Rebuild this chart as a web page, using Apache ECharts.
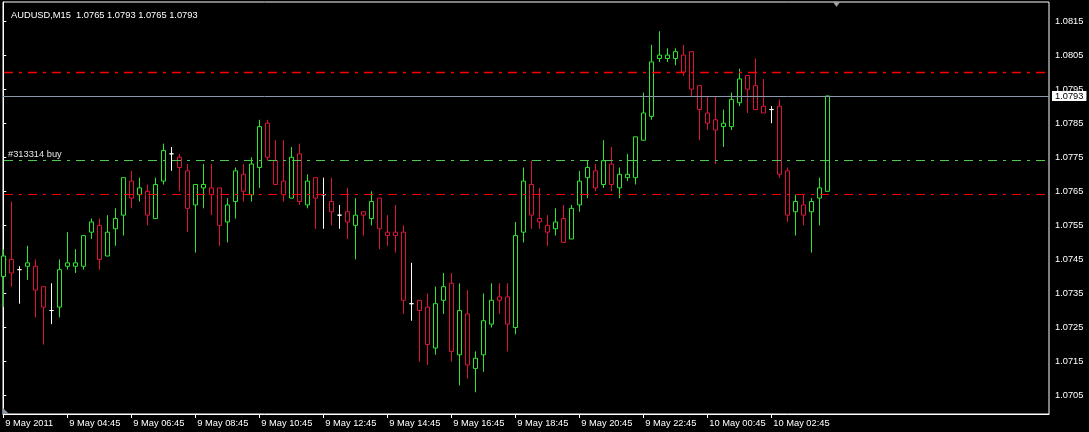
<!DOCTYPE html>
<html><head><meta charset="utf-8">
<script src="https://cdn.jsdelivr.net/npm/echarts@6/dist/echarts.min.js"></script>
<style>html,body{margin:0;padding:0;background:#000}#c{width:1089px;height:432px}</style>
</head><body><div id="c"></div>
<script>
const chartTitle = 'AUDUSD,M15  1.0765 1.0793 1.0765 1.0793';
const xLabels = ['9 May 2011','9 May 04:45','9 May 06:45','9 May 08:45','9 May 10:45','9 May 12:45','9 May 14:45','9 May 16:45','9 May 18:45','9 May 20:45','9 May 22:45','10 May 00:45','10 May 02:45'];
const xLabelIdx = [0,8,16,24,32,40,48,56,64,72,80,88,96];
const yTicks = [1.0705,1.0715,1.0725,1.0735,1.0745,1.0755,1.0765,1.0775,1.0785,1.0795,1.0805,1.0815];

const opens = [1.0740,1.0745,1.0742,1.0743,1.0743,1.0737,1.0730,1.0731,1.0743,1.0743,
1.0743,1.0753,1.0755,1.0746,1.0754,1.0758,1.0768,1.0764,1.0765,1.0757,
1.0768,1.0776,1.0775,1.0771,1.0761,1.0766,1.0766,1.0766,1.0756,1.0762,
1.0770,1.0764,1.0772,1.0785,1.0774,1.0768,1.0763,1.0776,1.0761,1.0769,
1.0764,1.0762,1.0758,1.0759,1.0755,1.0759,1.0757,1.0763,1.0753,1.0753,
1.0753,1.0732,1.0733,1.0731,1.0719,1.0733,1.0738,1.0717,1.0729,1.0713,
1.0717,1.0726,1.0734,1.0734,1.0725,1.0753,1.0767,1.0757,1.0755,1.0754,
1.0757,1.0751,1.0761,1.0769,1.0771,1.0767,1.0773,1.0766,1.0769,1.0769,
1.0780,1.0787,1.0804,1.0804,1.0804,1.0805,1.0806,1.0796,1.0788,1.0786,
1.0784,1.0784,1.0791,1.0799,1.0796,1.0790,1.0789,1.0790,1.0771,1.0759,
1.0761,1.0759,1.0763,1.0765];
const highs = [1.0748,1.0762,1.0743,1.0749,1.0745,1.0737,1.0738,1.0745,1.0753,1.0748,
1.0752,1.0757,1.0757,1.0758,1.0760,1.0769,1.0771,1.0769,1.0767,1.0769,
1.0779,1.0778,1.0776,1.0773,1.0767,1.0773,1.0773,1.0766,1.0763,1.0772,
1.0773,1.0775,1.0786,1.0786,1.0780,1.0780,1.0778,1.0779,1.0770,1.0769,
1.0769,1.0769,1.0761,1.0766,1.0763,1.0759,1.0765,1.0763,1.0758,1.0761,
1.0755,1.0744,1.0733,1.0735,1.0737,1.0741,1.0741,1.0738,1.0736,1.0718,
1.0735,1.0738,1.0738,1.0738,1.0756,1.0772,1.0774,1.0766,1.0758,1.0760,
1.0761,1.0761,1.0771,1.0774,1.0773,1.0780,1.0778,1.0772,1.0776,1.0781,
1.0794,1.0808,1.0812,1.0807,1.0807,1.0808,1.0806,1.0796,1.0793,1.0793,
1.0789,1.0794,1.0801,1.0799,1.0804,1.0798,1.0790,1.0792,1.0772,1.0764,
1.0764,1.0763,1.0769,1.0793];
const lows = [1.0731,1.0737,1.0732,1.0739,1.0728,1.0720,1.0726,1.0728,1.0742,1.0741,
1.0742,1.0751,1.0742,1.0746,1.0749,1.0752,1.0760,1.0762,1.0755,1.0757,
1.0767,1.0771,1.0765,1.0753,1.0747,1.0760,1.0758,1.0749,1.0750,1.0757,
1.0762,1.0762,1.0766,1.0774,1.0767,1.0762,1.0763,1.0761,1.0760,1.0754,
1.0754,1.0755,1.0754,1.0751,1.0745,1.0752,1.0755,1.0748,1.0749,1.0747,
1.0729,1.0727,1.0715,1.0714,1.0717,1.0729,1.0715,1.0708,1.0710,1.0706,
1.0712,1.0725,1.0729,1.0718,1.0723,1.0750,1.0754,1.0754,1.0749,1.0752,
1.0750,1.0751,1.0759,1.0763,1.0765,1.0766,1.0765,1.0763,1.0768,1.0767,
1.0780,1.0786,1.0803,1.0803,1.0802,1.0799,1.0793,1.0780,1.0783,1.0773,
1.0778,1.0783,1.0790,1.0788,1.0789,1.0788,1.0785,1.0769,1.0756,1.0752,
1.0755,1.0747,1.0755,1.0765];
const closes = [1.0746,1.0741,1.0742,1.0744,1.0736,1.0731,1.0730,1.0742,1.0744,1.0744,
1.0752,1.0756,1.0745,1.0753,1.0757,1.0769,1.0763,1.0766,1.0758,1.0767,
1.0777,1.0776,1.0772,1.0760,1.0767,1.0767,1.0764,1.0755,1.0761,1.0771,
1.0765,1.0773,1.0784,1.0775,1.0767,1.0764,1.0775,1.0762,1.0768,1.0763,
1.0764,1.0759,1.0758,1.0756,1.0758,1.0758,1.0762,1.0754,1.0752,1.0752,
1.0733,1.0732,1.0730,1.0720,1.0732,1.0737,1.0718,1.0730,1.0714,1.0716,
1.0727,1.0733,1.0733,1.0726,1.0752,1.0768,1.0758,1.0756,1.0753,1.0756,
1.0750,1.0760,1.0768,1.0772,1.0766,1.0774,1.0767,1.0770,1.0770,1.0781,
1.0788,1.0803,1.0805,1.0805,1.0806,1.0800,1.0795,1.0789,1.0785,1.0783,
1.0785,1.0792,1.0798,1.0795,1.0789,1.0788,1.0789,1.0770,1.0758,1.0762,
1.0758,1.0762,1.0766,1.0793];

const bidPrice = 1.0793;
const tpPrice = 1.0800;
const orderPrice = 1.0774;
const orderLabel = '#313314 buy';
const slPrice = 1.0764;

const FONT = 'Liberation Sans, Arial, sans-serif';
const candles = opens.map((o, i) => [i, o, closes[i], lows[i], highs[i]]);

const chart = echarts.init(document.getElementById('c'), null, {renderer: 'canvas'});
const dashDot = [9, 6, 3, 6];

function levelSeries(price, lineStyle, label, z) {
  return {
    type: 'line', data: [], silent: true, z: z,
    markLine: {
      silent: true, symbol: ['none', 'none'], animation: false, precision: 5,
      lineStyle: lineStyle, label: label || {show: false},
      data: [{yAxis: price}]
    }
  };
}

chart.setOption({
  backgroundColor: '#000',
  animation: false,
  title: {
    text: chartTitle, left: 6, top: 6,
    textStyle: {color: '#fff', fontSize: 9.3, fontWeight: 'normal', fontFamily: FONT}
  },
  grid: {left: 3, right: 40, top: 2, bottom: 18, show: true, borderColor: '#fff', borderWidth: 1, backgroundColor: '#000'},
  xAxis: {
    type: 'value', min: -0.0375, max: 130.7125,
    axisLine: {show: true, onZero: false, lineStyle: {color: '#fff', width: 1}},
    splitLine: {show: false},
    axisTick: {show: true, customValues: xLabelIdx, length: 4, lineStyle: {color: '#fff'}},
    axisLabel: {
      customValues: xLabelIdx, color: '#fff', fontSize: 9.3, fontFamily: FONT,
      align: 'left', margin: 5, padding: [0, 0, 0, 2],
      formatter: v => { const k = xLabelIdx.indexOf(Math.round(v)); return k >= 0 ? xLabels[k] : ''; }
    }
  },
  yAxis: {
    type: 'value', position: 'right', min: 1.069962, max: 1.082058,
    axisLine: {show: true, lineStyle: {color: '#fff', width: 1}},
    splitLine: {show: false},
    axisTick: {show: true, customValues: yTicks, length: 3, lineStyle: {color: '#fff'}},
    axisLabel: {customValues: yTicks, color: '#fff', fontSize: 9.3, fontFamily: FONT, margin: 6,
      formatter: v => v.toFixed(4)}
  },
  graphic: [
    {type: 'polygon', shape: {points: [[833, 2], [840, 2], [836.5, 7]]}, style: {fill: '#a0a0a0'}, z: 100},
    {type: 'polygon', shape: {points: [[3, 408], [3, 414], [9, 414]]}, style: {fill: '#8898a8'}, z: 100}
  ],
  series: [
    levelSeries(tpPrice, {color: '#ff0000', width: 1.3, type: dashDot, dashOffset: 23}, null, 1),
    levelSeries(orderPrice, {color: '#4cc84c', width: 1, type: dashDot, dashOffset: 23},
      {show: true, position: 'insideStartTop', formatter: orderLabel, color: '#e6e6e6',
        fontSize: 9.3, fontFamily: FONT, distance: [5, 2]}, 1),
    levelSeries(slPrice, {color: '#ff0000', width: 1, type: dashDot, dashOffset: 23}, null, 1),
    levelSeries(bidPrice, {color: '#8a9aab', width: 1, type: 'solid'},
      {show: true, position: 'end', formatter: bidPrice.toFixed(4), backgroundColor: '#fff',
        color: '#000', fontSize: 9.3, fontFamily: FONT, padding: [1, 3, 0, 3], distance: 3}, 1),
    {
      type: 'candlestick',
      data: candles,
      encode: {x: 0, y: [1, 2, 3, 4]},
      barWidth: 4,
      z: 3,
      itemStyle: {
        color: '#000', color0: '#000',
        borderColor: '#2ee62e', borderColor0: '#dc143c', borderColorDoji: '#ffffff',
        borderWidth: 1
      }
    }
  ]
});
</script></body></html>
